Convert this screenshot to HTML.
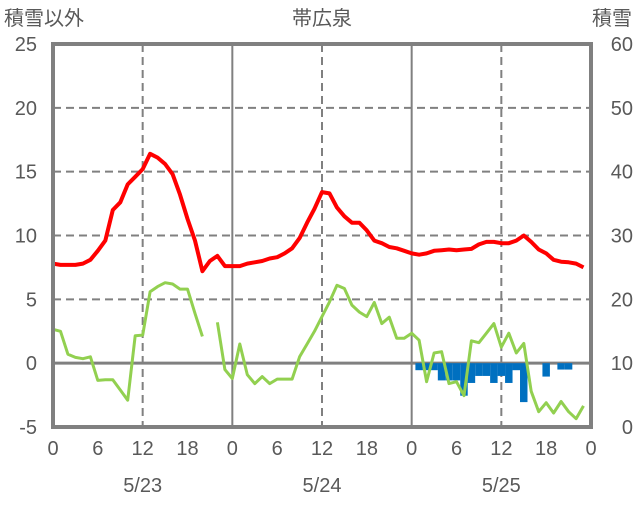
<!DOCTYPE html>
<html><head><meta charset="utf-8"><style>
html,body{margin:0;padding:0;background:#fff;}
svg text{font-family:"Liberation Sans","Noto Sans CJK JP",sans-serif;fill:#595959;}
</style></head><body>
<svg id="chart" width="636" height="501" viewBox="0 0 636 501" xmlns="http://www.w3.org/2000/svg">
<g id="grid"></g>
<g id="bars"></g>
<g id="lines"></g>
<g id="frame"></g>
<g id="labels"></g>
</svg>
<script>
const hours = Array.from({length:72},(_,i)=>i);
const redTemp = [7.8,7.7,7.7,7.7,7.8,8.1,8.8,9.6,12.0,12.6,14.0,14.6,15.2,16.4,16.1,15.6,14.8,13.2,11.3,9.6,7.2,8.0,8.4,7.6,
7.6,7.6,7.8,7.9,8.0,8.2,8.3,8.6,9.0,9.8,11.0,12.1,13.4,13.3,12.2,11.5,11.0,11.0,10.4,9.6,9.4,9.1,9.0,8.8,
8.6,8.5,8.6,8.8,8.85,8.9,8.85,8.9,8.95,9.3,9.5,9.5,9.4,9.4,9.6,10.0,9.5,8.9,8.6,8.1,7.95,7.9,7.8,7.5];
const greenTemp = [2.65,2.5,0.7,0.45,0.35,0.5,-1.35,-1.3,-1.3,-2.1,-2.9,2.15,2.2,5.6,6.0,6.3,6.2,5.8,5.8,3.9,2.1,null,3.2,-0.5,
-1.2,1.5,-0.9,-1.6,-1.05,-1.6,-1.25,-1.25,-1.25,0.5,1.5,2.5,3.65,4.8,6.1,5.85,4.55,4.0,3.65,4.75,3.1,3.6,1.95,1.95,
2.35,1.8,-1.45,0.8,0.9,-1.6,-1.45,-2.55,1.75,1.6,2.35,3.1,1.25,2.35,0.8,1.55,-2.2,-3.8,-3.1,-3.9,-3.0,-3.8,-4.35,-3.35];
const snowHours = [49,50,51,52,53,54,55,56,57,58,59,60,61,62,63,66,68,69];
const snowDepth = [8.9,8.9,8.9,7.3,7.3,7.3,4.9,6.9,8,8,6.9,8,6.9,8.9,3.9,7.9,9,9];
const leftTicks = [-5,0,5,10,15,20,25];
const rightTicks = [0,10,20,30,40,50,60];
const xTickLabels = [0,6,12,18,0,6,12,18,0,6,12,18,0];
const dateLabels = ["5/23","5/24","5/25"];

const X0=53,X1=591,Y0=44,Y1=427;
const x = h => X0 + (X1-X0)*h/72;
const yL = v => Y1 - (v+5)/30*(Y1-Y0);
const yR = v => Y1 - v/60*(Y1-Y0);
const NS="http://www.w3.org/2000/svg";
function mk(tag,parent,attrs){const e=document.createElementNS(NS,tag);for(const k in attrs)e.setAttribute(k,attrs[k]);document.getElementById(parent).appendChild(e);return e;}

[5,10,15,20].forEach(v=>{
 const l=mk('line','grid',{x1:X0,x2:X1,y1:yL(v),y2:yL(v),stroke:'#808080','stroke-width':2,'stroke-dasharray':'8,5'});
 
 
});
[12,36,60].forEach(h=>{
 const l=mk('line','grid',{x1:x(h),x2:x(h),y1:Y0,y2:Y1,stroke:'#808080','stroke-width':2,'stroke-dasharray':'8,5'});
 
 
});
[24,48].forEach(h=>{
 const l=mk('line','grid',{x1:x(h),x2:x(h),y1:Y0,y2:Y1,stroke:'#808080','stroke-width':2});
 
 
});

const bw=(X1-X0)/72;
snowHours.forEach((h,i)=>{
 const top=yR(10), bot=yR(snowDepth[i]);
 const r=mk('rect','bars',{x:x(h)-bw/2,y:top,width:bw,height:bot-top,fill:'#0070C0'});
 
 
});

const z=mk('line','grid',{x1:X0,x2:X1,y1:yL(0),y2:yL(0),stroke:'#808080','stroke-width':3});



function path(arr){let d='',pen=false;arr.forEach((v,i)=>{if(v===null){pen=false;return;}d+=(pen?'L':'M')+x(hours[i]).toFixed(1)+','+yL(v).toFixed(1);pen=true;});return d;}
const g=mk('path','lines',{d:path(greenTemp),fill:'none',stroke:'#92D050','stroke-width':3,'stroke-linejoin':'round'});


const r=mk('path','lines',{d:path(redTemp),fill:'none',stroke:'#FF0000','stroke-width':4,'stroke-linejoin':'round'});



const f=mk('rect','frame',{x:X0,y:Y0,width:X1-X0,height:Y1-Y0,fill:'none',stroke:'#808080','stroke-width':4});



function txt(s,xx,yy,anchor,size,name){const t=mk('text','labels',{x:xx,y:yy,'text-anchor':anchor,'font-size':size});t.textContent=s;return t;}
leftTicks.forEach(v=>txt(String(v),37,yL(v)+7,'end',20,'left-tick-label'));
rightTicks.forEach(v=>txt(String(v),633,yR(v)+7,'end',20,'right-tick-label'));
xTickLabels.forEach((v,i)=>txt(String(v),x(i*6),455,'middle',20,'x-tick-label'));
dateLabels.forEach((s,i)=>txt(s,x(12+24*i),492,'middle',20,'date-label'));
txt('積雪以外',4,25,'start',20,'left-axis-title');
txt('積雪',632,25,'end',20,'right-axis-title');
txt('帯広泉',322,25,'middle',20,'chart-title');
</script>
</body></html>
